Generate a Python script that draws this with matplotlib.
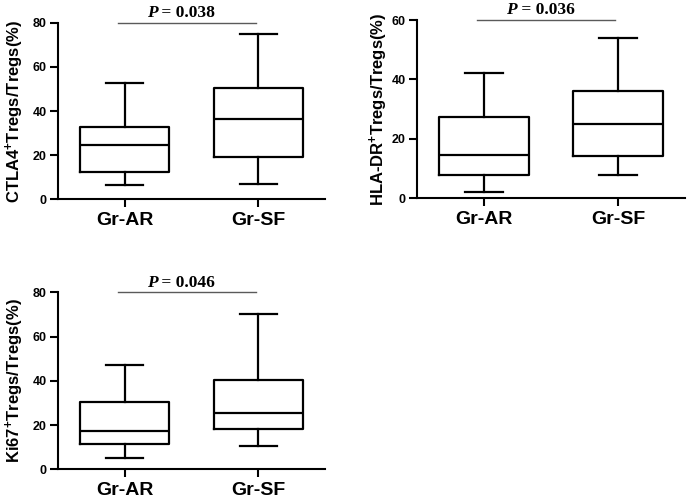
import matplotlib
matplotlib.use("Agg")
import matplotlib.pyplot as plt

plt.rcParams['font.family'] = ['Liberation Sans', 'DejaVu Sans']
plt.rcParams['mathtext.fontset'] = 'custom'
plt.rcParams['mathtext.rm'] = 'Liberation Sans:bold'
plt.rcParams['mathtext.bf'] = 'Liberation Sans:bold'
plt.rcParams['mathtext.it'] = 'Liberation Sans:bold'

groups = ['Gr-AR', 'Gr-SF']

# [min, Q1, median, Q3, max] for each group
ctla4_ar = [6.6, 12.2, 24.5, 32.8, 52.8]
ctla4_sf = [7.1, 19.0, 36.4, 50.4, 75.0]
hladr_ar = [1.9, 7.7, 14.4, 27.4, 42.1]
hladr_sf = [7.9, 14.2, 25.1, 36.2, 53.8]
ki67_ar = [5.0, 11.5, 17.3, 30.3, 47.2]
ki67_sf = [10.5, 18.1, 25.6, 40.4, 70.4]

ylabels = [r'CTLA4$^{+}$Tregs/Tregs(%)', r'HLA-DR$^{+}$Tregs/Tregs(%)', r'Ki67$^{+}$Tregs/Tregs(%)']
pvalues = ['0.038', '0.036', '0.046']
ymaxs = [80, 60, 80]
yticks = [[0, 20, 40, 60, 80], [0, 20, 40, 60], [0, 20, 40, 60, 80]]
datasets = [(ctla4_ar, ctla4_sf), (hladr_ar, hladr_sf), (ki67_ar, ki67_sf)]

positions = [
    [58/689, 1-199.3/498, 267/689, 176.6/498],
    [416.7/689, 1-198/498, 268.3/689, 178/498],
    [58/689, 1-469.3/498, 267/689, 177/498],
]
label_x = [-0.12, -0.10, -0.12]

fig = plt.figure(figsize=(6.89, 4.98), dpi=100)

def stat(v, label):
    return dict(whislo=v[0], q1=v[1], med=v[2], q3=v[3], whishi=v[4], fliers=[], label=label)

for i in range(3):
    ax = fig.add_axes(positions[i])
    a, b = datasets[i]
    stats = [stat(a, groups[0]), stat(b, groups[1])]
    lw = 1.6
    ax.bxp(stats, positions=[0, 1], widths=0.67, capwidths=0.28, showfliers=False,
           boxprops=dict(color='black', linewidth=lw),
           whiskerprops=dict(color='black', linewidth=lw),
           capprops=dict(color='black', linewidth=lw),
           medianprops=dict(color='black', linewidth=lw))
    ax.set_xlim(-0.5, 1.5)
    ax.set_ylim(0, ymaxs[i])
    ax.set_yticks(yticks[i])
    ax.set_xticks([0, 1])
    ax.set_xticklabels(groups, fontsize=14, fontweight='bold')
    for t in ax.get_yticklabels():
        t.set_fontweight('bold')
        t.set_fontsize(9)
    ax.spines['top'].set_visible(False)
    ax.spines['right'].set_visible(False)
    ax.spines['left'].set_linewidth(1.5)
    ax.spines['bottom'].set_linewidth(1.5)
    ax.tick_params(axis='both', direction='out', length=6, width=1.5, pad=2)
    ax.tick_params(axis='x', pad=3)
    ax.set_ylabel(ylabels[i], fontsize=12, fontweight='bold')
    ax.yaxis.set_label_coords(label_x[i], 0.5)
    ax.plot([-0.05, 0.98], [ymaxs[i], ymaxs[i]], color='#5a5a5a', linewidth=1.0, clip_on=False)
    ax.annotate('P', xy=(0.245, 1.0), xycoords=('data', 'axes fraction'),
                xytext=(0, 4), textcoords='offset points', ha='right', va='baseline',
                fontsize=12.5, fontweight='bold', fontstyle='italic', family='Liberation Serif',
                annotation_clip=False)
    ax.annotate(' = ' + pvalues[i], xy=(0.245, 1.0), xycoords=('data', 'axes fraction'),
                xytext=(0, 4), textcoords='offset points', ha='left', va='baseline',
                fontsize=12.5, fontweight='bold', family='Liberation Serif',
                annotation_clip=False)

fig.savefig('out.png', dpi=100)
